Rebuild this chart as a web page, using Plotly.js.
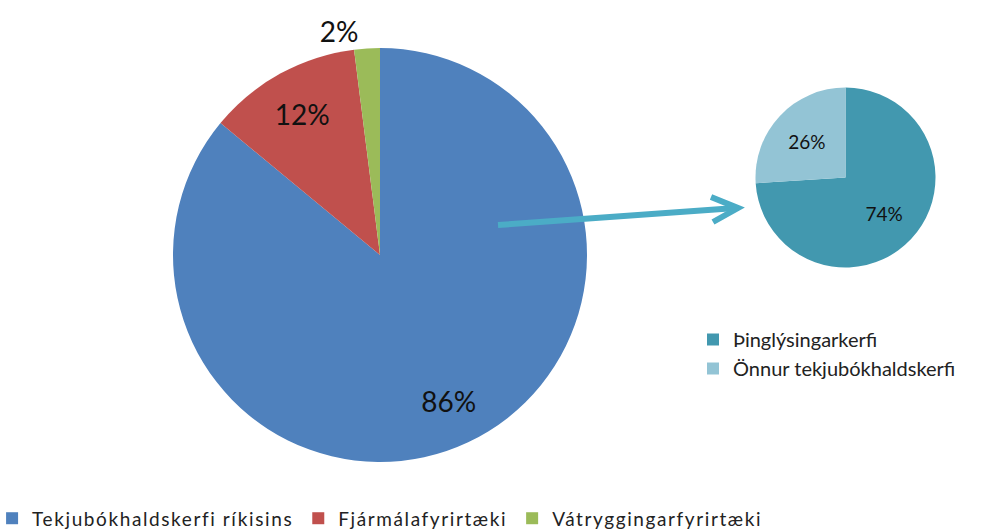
<!DOCTYPE html>
<html>
<head>
<meta charset="utf-8">
<script src="https://cdn.plot.ly/plotly-3.0.1.min.js"></script>
<style>
html,body{margin:0;padding:0;background:#fff;}
#chart{width:990px;height:531px;}
.legendtext{letter-spacing:1.6px;}
</style>
</head>
<body>
<div id="chart"></div>
<script>
// Data
const mainLabels = ["Tekjubókhaldskerfi ríkisins", "Fjármálafyrirtæki", "Vátryggingarfyrirtæki"];
const mainValues = [86, 12, 2];
const subLabels = ["Þinglýsingarkerfi", "Önnur tekjubókhaldskerfi"];
const subValues = [74, 26];

// Styles
const mainColors = ["#4F81BD", "#C0504D", "#9BBB59"];
const subColors = ["#4298AF", "#93C4D5"];
const arrowColor = "#4BACC6";
const FONT = "Lato, 'Open Sans', sans-serif";
const W = 990, H = 531;
const px = x => x / W;
const py = y => 1 - y / H;
const mainDomain = {x: [px(380 - 207), px(380 + 207)], y: [(276 - 207) / H, (276 + 207) / H]};
const subDomain = {x: [px(845.5 - 90), px(845.5 + 90)], y: [(353.5 - 90) / H, (353.5 + 90) / H]};
const clear = n => Array(n).fill("rgba(0,0,0,0)");

const mainPie = {
  type: "pie", labels: mainLabels, values: mainValues,
  sort: false, direction: "clockwise", rotation: 0,
  marker: {colors: mainColors, line: {width: 0}},
  textinfo: "none", domain: mainDomain, legend: "legend", hoverinfo: "label+percent"
};

// transparent ring carrying the percentage labels of the main pie
const mainPieLabels = {
  type: "pie", labels: mainLabels, values: mainValues,
  sort: false, direction: "clockwise", rotation: 0, hole: 0.56,
  marker: {colors: clear(mainValues.length), line: {width: 0}},
  textinfo: "percent", texttemplate: "%{percent:.0%}",
  textposition: ["inside", "inside", "outside"],
  insidetextorientation: "horizontal",
  textfont: {family: FONT, size: 28, color: "#111"},
  outsidetextfont: {family: FONT, size: 28, color: "#111"},
  domain: mainDomain, showlegend: false, hoverinfo: "skip"
};

const subPie = {
  type: "pie", labels: subLabels, values: subValues,
  sort: false, direction: "clockwise", rotation: 0,
  marker: {colors: subColors, line: {width: 0}},
  textinfo: "none", domain: subDomain, legend: "legend2", hoverinfo: "label+percent"
};

const subPieLabels = {
  type: "pie", labels: subLabels, values: subValues,
  sort: false, direction: "clockwise", rotation: 0, hole: 0.18,
  marker: {colors: clear(subValues.length), line: {width: 0}},
  textinfo: "percent", texttemplate: "%{percent:.0%}",
  textposition: "inside", insidetextorientation: "horizontal",
  textfont: {family: FONT, size: 19, color: "#111"},
  domain: subDomain, showlegend: false, hoverinfo: "skip"
};

const layout = {
  width: W, height: H,
  margin: {l: 0, r: 0, t: 0, b: 0, autoexpand: false},
  paper_bgcolor: "#fff",
  font: {family: FONT, color: "#222"},
  showlegend: true,
  legend: {
    orientation: "h", x: -0.008, xanchor: "left", y: -0.012, yanchor: "bottom",
    font: {family: FONT, size: 19, color: "#222"}, itemwidth: 30
  },
  legend2: {
    orientation: "v", x: px(693), xanchor: "left", y: py(320), yanchor: "top",
    font: {family: FONT, size: 20, color: "#222"}, itemwidth: 30
  },
  shapes: [
    {type: "line", xref: "paper", yref: "paper", x0: px(498), y0: py(225), x1: px(736), y1: py(208),
     line: {color: arrowColor, width: 6}, layer: "above"},
    {type: "path", xref: "paper", yref: "paper",
     path: `M ${px(711)} ${py(197)} L ${px(738)} ${py(208)} L ${px(713)} ${py(222)}`,
     line: {color: arrowColor, width: 6}, layer: "above"}
  ]
};

Plotly.newPlot("chart", [mainPie, mainPieLabels, subPie, subPieLabels], layout, {displayModeBar: false, staticPlot: true});
</script>
</body>
</html>
